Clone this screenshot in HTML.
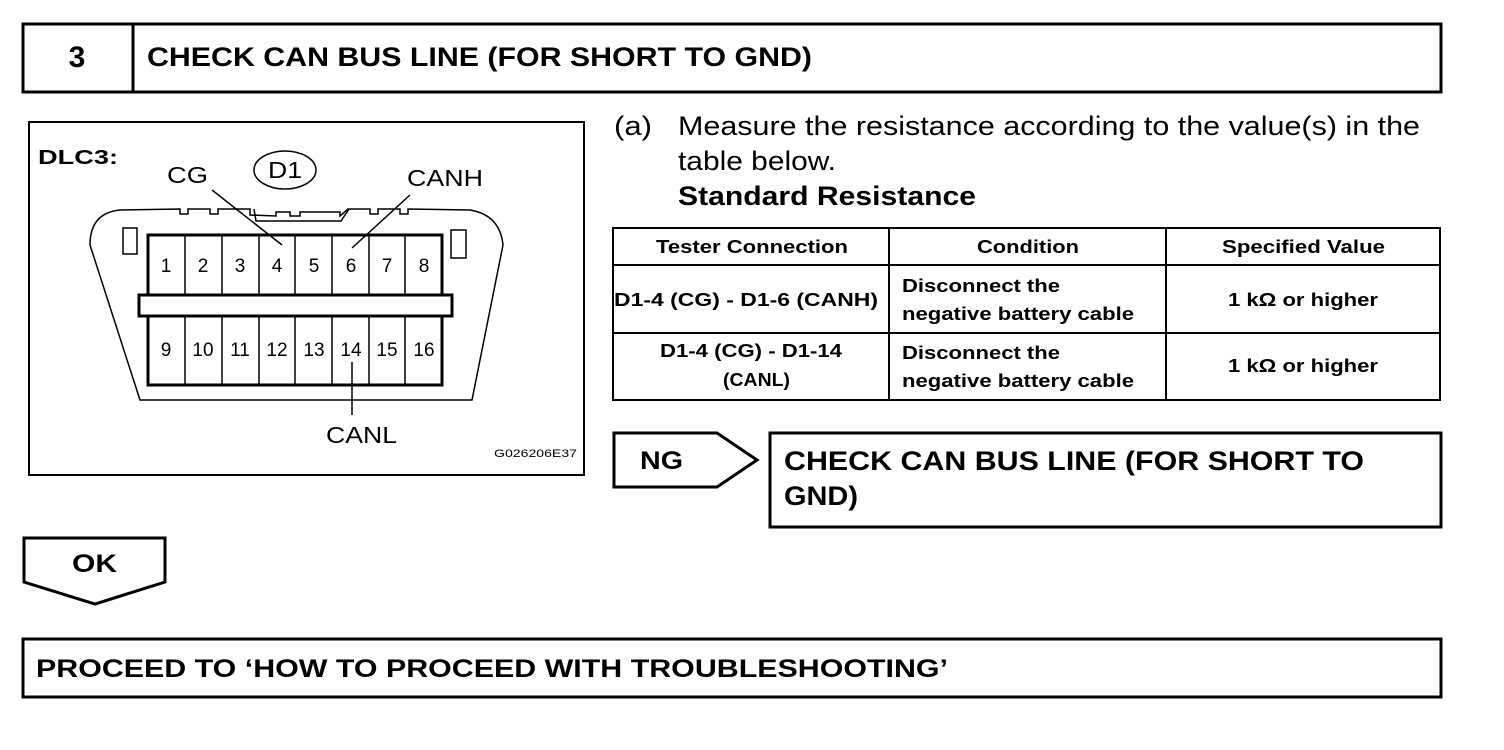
<!DOCTYPE html>
<html><head><meta charset="utf-8"><style>
html,body{margin:0;padding:0;background:#fff;}
svg{display:block;font-family:"Liberation Sans",Arial,sans-serif;}
.b{font-weight:bold;}
</style></head><body>
<svg width="1504" height="750" viewBox="0 0 1504 750" xmlns="http://www.w3.org/2000/svg">
<g fill="none" stroke="#000" stroke-width="3">
<rect x="23" y="24" width="1418" height="68"/>
<line x1="133" y1="24" x2="133" y2="92"/>
<rect x="29" y="122" width="555" height="353" stroke-width="2"/>
<rect x="613" y="228" width="827" height="172" stroke-width="2"/>
<line x1="889" y1="228" x2="889" y2="400" stroke-width="2"/>
<line x1="1166" y1="228" x2="1166" y2="400" stroke-width="2"/>
<line x1="613" y1="265" x2="1440" y2="265" stroke-width="2"/>
<line x1="613" y1="333" x2="1440" y2="333" stroke-width="2"/>
<polygon points="614,433 717,433 757,460 717,487 614,487"/>
<rect x="770" y="433" width="671" height="94"/>
<polygon points="24,538 165,538 165,582 95,604 24,582"/>
<rect x="23" y="639" width="1418" height="58"/>
</g>
<g fill="none" stroke="#000" stroke-width="1.5">
<path d="M120,210 L180,209 L180,214 L188,214 L188,209 L210,209 L210,214 L218,214 L218,209 L250,209 L250,215 L276,216 L276,212 L290,212 L290,216 L300,216 L300,212 L340,212 L340,216 L348,209 L370,209 L370,214 L378,214 L378,209 L400,209 L400,214 L408,214 L408,209 L470,210 Q500,215 503,245 L472,400 L140,400 L90,245 Q90,213 120,210 Z"/>
<path d="M254,209 L256,221 L341,221 L349,209"/>
<rect x="123" y="228" width="14" height="26"/>
<rect x="451" y="230" width="15" height="28"/>
</g>
<g stroke="#000" fill="#fff">
<rect x="148" y="235" width="294" height="150" stroke-width="3"/>
<rect x="139" y="295" width="313" height="21" stroke-width="3"/>
</g>
<g stroke="#000" stroke-width="1.5">
<line x1="185" y1="235" x2="185" y2="295"/><line x1="222" y1="235" x2="222" y2="295"/><line x1="259" y1="235" x2="259" y2="295"/><line x1="295" y1="235" x2="295" y2="295"/><line x1="332" y1="235" x2="332" y2="295"/><line x1="369" y1="235" x2="369" y2="295"/><line x1="405" y1="235" x2="405" y2="295"/>
<line x1="185" y1="316" x2="185" y2="385"/><line x1="222" y1="316" x2="222" y2="385"/><line x1="259" y1="316" x2="259" y2="385"/><line x1="295" y1="316" x2="295" y2="385"/><line x1="332" y1="316" x2="332" y2="385"/><line x1="369" y1="316" x2="369" y2="385"/><line x1="405" y1="316" x2="405" y2="385"/>
<line x1="212" y1="190" x2="282" y2="245"/>
<line x1="410" y1="195" x2="352" y2="248"/>
<line x1="352" y1="362" x2="352" y2="415"/>
</g>
<ellipse cx="285" cy="170" rx="31" ry="19" fill="none" stroke="#000" stroke-width="1.5"/>
<g font-size="19" text-anchor="middle" fill="#000">
<text x="166" y="272">1</text><text x="203" y="272">2</text><text x="240" y="272">3</text><text x="277" y="272">4</text><text x="314" y="272">5</text><text x="351" y="272">6</text><text x="387" y="272">7</text><text x="424" y="272">8</text>
<text x="166" y="356">9</text><text x="203" y="356">10</text><text x="240" y="356">11</text><text x="277" y="356">12</text><text x="314" y="356">13</text><text x="351" y="356">14</text><text x="387" y="356">15</text><text x="424" y="356">16</text>
</g>
<g fill="#000">
<text x="77" y="67" class="b" font-size="30" text-anchor="middle">3</text>
<text x="147" y="66" class="b" font-size="27" textLength="665" lengthAdjust="spacingAndGlyphs">CHECK CAN BUS LINE (FOR SHORT TO GND)</text>
<text x="38" y="164" class="b" font-size="20" textLength="80" lengthAdjust="spacingAndGlyphs">DLC3:</text>
<text x="167" y="183" font-size="23" textLength="41" lengthAdjust="spacingAndGlyphs">CG</text>
<text x="268" y="178" font-size="23" textLength="34" lengthAdjust="spacingAndGlyphs">D1</text>
<text x="407" y="186" font-size="23" textLength="76" lengthAdjust="spacingAndGlyphs">CANH</text>
<text x="326" y="443" font-size="23" textLength="71" lengthAdjust="spacingAndGlyphs">CANL</text>
<text x="494" y="457" font-size="11" textLength="83" lengthAdjust="spacingAndGlyphs">G026206E37</text>
<text x="614" y="135" font-size="27" textLength="38" lengthAdjust="spacingAndGlyphs">(a)</text>
<text x="678" y="135" font-size="27" textLength="742" lengthAdjust="spacingAndGlyphs">Measure the resistance according to the value(s) in the</text>
<text x="678" y="170" font-size="27" textLength="158" lengthAdjust="spacingAndGlyphs">table below.</text>
<text x="678" y="205" class="b" font-size="27" textLength="298" lengthAdjust="spacingAndGlyphs">Standard Resistance</text>
<g class="b" font-size="18">
<text x="656" y="253" textLength="192" lengthAdjust="spacingAndGlyphs">Tester Connection</text>
<text x="977" y="253" textLength="102" lengthAdjust="spacingAndGlyphs">Condition</text>
<text x="1222" y="253" textLength="163" lengthAdjust="spacingAndGlyphs">Specified Value</text>
<text x="614" y="306" textLength="264" lengthAdjust="spacingAndGlyphs">D1-4 (CG) - D1-6 (CANH)</text>
<text x="660" y="357" textLength="182" lengthAdjust="spacingAndGlyphs">D1-4 (CG) - D1-14</text>
<text x="723" y="386" textLength="67" lengthAdjust="spacingAndGlyphs">(CANL)</text>
<text x="1228" y="306" textLength="150" lengthAdjust="spacingAndGlyphs">1 kΩ or higher</text>
<text x="1228" y="372" textLength="150" lengthAdjust="spacingAndGlyphs">1 kΩ or higher</text>
<text x="902" y="292" textLength="158" lengthAdjust="spacingAndGlyphs">Disconnect the</text>
<text x="902" y="320" textLength="232" lengthAdjust="spacingAndGlyphs">negative battery cable</text>
<text x="902" y="359" textLength="158" lengthAdjust="spacingAndGlyphs">Disconnect the</text>
<text x="902" y="387" textLength="232" lengthAdjust="spacingAndGlyphs">negative battery cable</text>
</g>
<text x="640" y="469" class="b" font-size="25" textLength="43" lengthAdjust="spacingAndGlyphs">NG</text>
<text x="784" y="470" class="b" font-size="27" textLength="580" lengthAdjust="spacingAndGlyphs">CHECK CAN BUS LINE (FOR SHORT TO</text>
<text x="784" y="505" class="b" font-size="27" textLength="74" lengthAdjust="spacingAndGlyphs">GND)</text>
<text x="72" y="572" class="b" font-size="25" textLength="45" lengthAdjust="spacingAndGlyphs">OK</text>
<text x="36" y="677" class="b" font-size="25" textLength="912" lengthAdjust="spacingAndGlyphs">PROCEED TO ‘HOW TO PROCEED WITH TROUBLESHOOTING’</text>
</g>
</svg>
</body></html>
